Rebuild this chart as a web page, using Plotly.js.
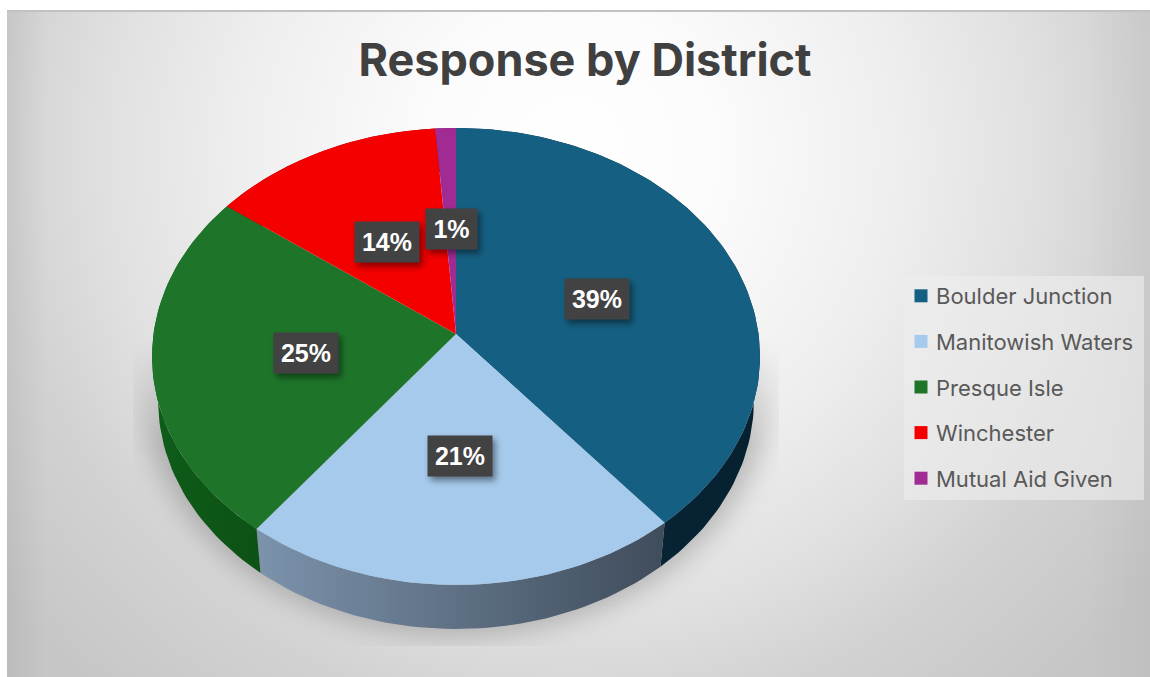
<!DOCTYPE html>
<html><head><meta charset="utf-8">
<script src="https://cdn.plot.ly/plotly-3.0.1.min.js"></script>
<style>
html,body{margin:0;padding:0;background:#fff;width:1150px;height:677px;overflow:hidden}
#bg{position:absolute;left:7px;top:10px;width:1143px;height:667px;
 background:linear-gradient(to right,rgba(0,0,0,.05),rgba(0,0,0,0) 40px,rgba(0,0,0,0) 1080px,rgba(0,0,0,.03)),
  radial-gradient(circle 720px at 563px 140px,#ffffff 0%,#fbfbfb 21%,#eeeeee 46%,#e0e0e0 65%,#d2d2d2 79%,#c6c6c6 100%);
 border-top:2px solid #c2c2c2;box-sizing:border-box}
#shadowBox{position:absolute;left:133px;top:340px;width:646px;height:306px;overflow:hidden;
 -webkit-mask-image:linear-gradient(to bottom,transparent 0%,#000 35%);mask-image:linear-gradient(to bottom,transparent 0%,#000 35%)}
#shadow{position:absolute;left:8px;top:-208px;width:630px;height:504px;border-radius:50%;background:rgba(70,70,70,.3);filter:blur(13px)}
#chart{position:absolute;left:0;top:0;width:1150px;height:677px}
.annotation rect.bg{filter:drop-shadow(3px 4px 3px rgba(0,0,0,.45))}
</style></head><body>
<div id="bg"></div>
<div id="shadowBox"><div id="shadow"></div></div>
<div id="chart"></div>
<script>
var categories = ["Boulder Junction","Manitowish Waters","Presque Isle","Winchester","Mutual Aid Given"];
var shares = [39.0, 21.4, 24.8, 13.6, 1.2];
var faceColors = ["#156082","#A6CAEC","#1E752A","#F40000","#A02B93"];
var sideStart = ["#0A2B3F","#7C93AC","#0F5C19","#8A0000","#5C1855"];
var sideEnd   = ["#06202F","#3F4C5B","#0C5215","#8A0000","#5C1855"];
var chartTitle = "Response by District";

// perspective of the tilted disc, in page pixels
var cx=456, cy=334, a=302.5, b=226.3, k=0.0984, depth=44, shrink=0.98;
function top3(r,deg){var t=deg*Math.PI/180,x=r*Math.sin(t),y=r*Math.cos(t),d=1+k*y;return [x/d,y/d];}
function low3(deg){var p=top3(1,deg);return [p[0]*shrink,p[1]-depth/b];}
function rng(s,e){var o=[],n=Math.max(3,Math.ceil((e-s)/1.5));for(var i=0;i<=n;i++)o.push(s+(e-s)*i/n);return o;}

var total=shares.reduce(function(p,c){return p+c;},0), angle=0, spans=[];
shares.forEach(function(v){var s=angle;angle+=v/total*360;spans.push([s,angle]);});

var traces=[];
spans.forEach(function(sp,i){
  var up=rng(sp[0],sp[1]).map(function(d){return top3(1,d);});
  var dn=rng(sp[0],sp[1]).reverse().map(low3);
  var pts=up.concat(dn);pts.push(up[0]);
  traces.push({type:"scatter",mode:"lines",x:pts.map(function(p){return p[0];}),y:pts.map(function(p){return p[1];}),
    fill:"toself",line:{width:0},showlegend:false,hoverinfo:"skip",
    fillgradient:{type:"horizontal",colorscale:[[0,sideStart[i]],[1,sideEnd[i]]]}});
});
spans.forEach(function(sp,i){
  var pts=[top3(0,0)].concat(rng(sp[0],sp[1]).map(function(d){return top3(1,d);}));pts.push(top3(0,0));
  traces.push({type:"scatter",mode:"lines",x:pts.map(function(p){return p[0];}),y:pts.map(function(p){return p[1];}),
    fill:"toself",fillcolor:faceColors[i],line:{width:0},showlegend:false,name:categories[i],
    hovertemplate:categories[i]+": "+shares[i]+"%<extra></extra>"});
});
categories.forEach(function(c,i){
  traces.push({type:"scatter",mode:"markers",x:[null],y:[null],name:c,legendgroup:c,showlegend:true,
    marker:{symbol:"square",size:13,color:faceColors[i]}});
});

var annotations=spans.map(function(sp,i){
  var p=top3(0.5,(sp[0]+sp[1])/2), t=Math.round(shares[i]/total*100)+"%";
  return {x:p[0],y:p[1],xref:"x",yref:"y",text:t,showarrow:false,bgcolor:"#424242",yshift:-3,xshift:1,
    width:t.length===2?49:62,height:38,font:{family:"Liberation Sans",size:25,color:"#fff",weight:700}};
});

var layout={width:1150,height:677,margin:{l:0,r:0,t:0,b:0},paper_bgcolor:"rgba(0,0,0,0)",plot_bgcolor:"rgba(0,0,0,0)",
  title:{text:chartTitle,x:585/1150,xanchor:"center",y:1-60/677,yanchor:"middle",font:{family:"Inter",size:45,color:"#404040",weight:700}},
  xaxis:{range:[(0-cx)/a,(1150-cx)/a],visible:false,fixedrange:true},
  yaxis:{range:[(cy-677)/b,cy/b],visible:false,fixedrange:true},
  shapes:[{type:"rect",xref:"paper",yref:"paper",x0:904/1150,x1:1144/1150,y0:1-500/677,y1:1-276/677,
    fillcolor:"rgba(238,238,238,.62)",line:{width:0},layer:"below"}],
  legend:{x:896/1150,xanchor:"left",y:1-275/677,yanchor:"top",bgcolor:"rgba(0,0,0,0)",tracegroupgap:14,itemclick:false,itemdoubleclick:false,
    font:{family:"Inter",size:22,color:"#595959"}},
  annotations:annotations,showlegend:true,hovermode:"closest"};

Plotly.newPlot("chart",traces,layout,{displayModeBar:false,responsive:false}).then(function(){
  document.querySelectorAll(".legendsymbols .legendpoints").forEach(function(n){n.setAttribute("transform","translate(5,0)");});
});
</script></body></html>
